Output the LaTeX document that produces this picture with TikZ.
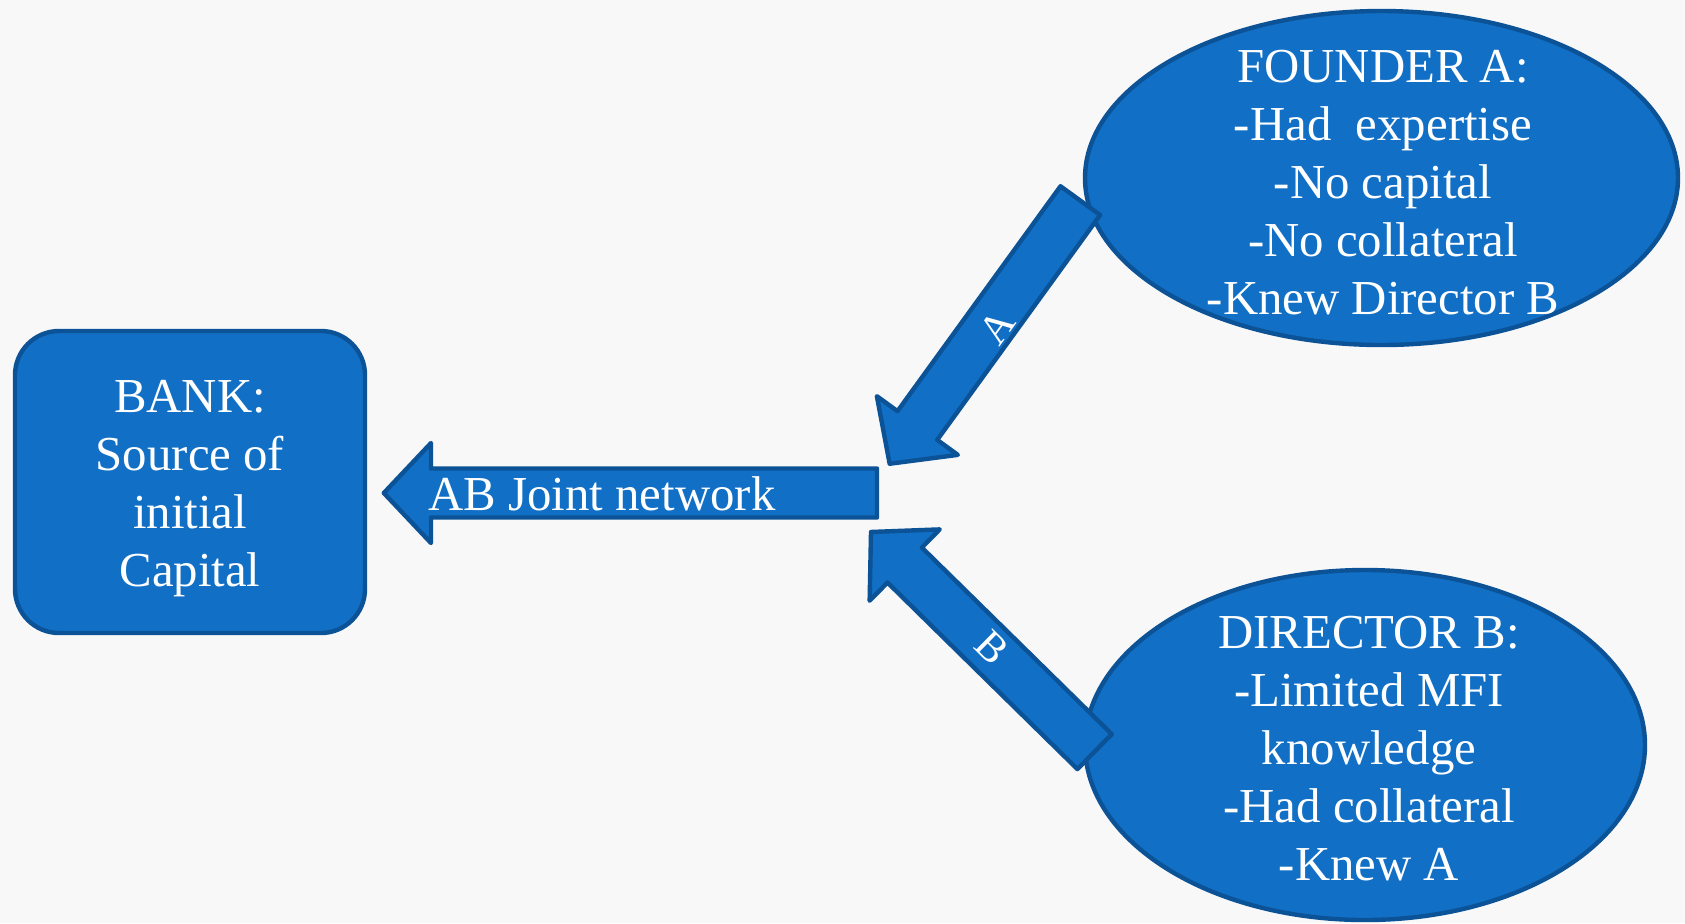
\documentclass[tikz,border=0pt]{standalone}
\usepackage{fontspec}
\setmainfont{Liberation Serif}
\usetikzlibrary{shapes.geometric,calc}
\definecolor{bgc}{HTML}{F8F8F8}
\definecolor{fillb}{RGB}{17,112,198}
\definecolor{lineb}{RGB}{11,82,150}
\tikzset{
  shapefill/.style={fill=fillb, draw=lineb, line width=2.2pt, line join=round},
  bankbox/.style={shapefill, rectangle, rounded corners=22pt, minimum width=175pt, minimum height=151pt, inner sep=0pt},
  oval/.style={shapefill, ellipse, inner sep=0pt},
  bigtxt/.style={text=white, font=\fontsize{24.4}{29}\selectfont, align=center, inner sep=0pt},
  arrtxt/.style={text=white, font=\fontsize{21}{24}\selectfont, inner sep=0pt},
}
\newcommand\blockarrow[2]{%
  \coordinate (bt) at ($(#1)!1pt!(#2)$);
  \coordinate (bp) at ($(#2)!1.4pt!(#1)$);
  \coordinate (bb) at ($(#2)!25pt!(#1)$);
  \draw[shapefill] ($(bt)!12.25pt!90:(bp)$) -- ($(bb)!12.25pt!-90:(bt)$) -- ($(bb)!25pt!-90:(bt)$) -- (bp)
    -- ($(bb)!25pt!90:(bt)$) -- ($(bb)!12.25pt!90:(bt)$) -- ($(bt)!12.25pt!-90:(bp)$) -- cycle;
}
\begin{document}
\begin{tikzpicture}[x=0.5pt, y=-0.5pt]
  \fill[bgc] (0,0) rectangle (1685,923);
  \useasboundingbox (0,0) rectangle (1685,923);

  % shapes
  \node[bankbox] (bank) at (190,482) {};
  \node[oval, minimum width=296.5pt, minimum height=167pt] (founder) at (1381.5,178) {};
  \node[oval, minimum width=280pt, minimum height=175pt] (director) at (1365,745) {};

  % arrow end points
  \coordinate (mainT) at (879,493);
  \coordinate (mainP) at (381,493);
  \coordinate (aT) at (1081.5,199);
  \coordinate (aP) at (888,466);
  \coordinate (bT) at (1096,753);
  \coordinate (bP) at (869,530);

  \blockarrow{mainT}{mainP}
  \blockarrow{aT}{aP}
  \blockarrow{bT}{bP}

  % texts
  \node[bigtxt, anchor=north] (banktxt) at (190,380) {BANK:\\Source of\\initial\\Capital};
  \node[bigtxt, anchor=north] (foundertxt) at (1383,50) {FOUNDER A:\\-Had\ \ expertise\\-No capital\\-No collateral\\-Knew Director B};
  \node[bigtxt, anchor=north] (directortxt) at (1369,616) {DIRECTOR B:\\-Limited MFI\\knowledge\\-Had collateral\\-Knew A};
  \node[bigtxt, anchor=base west] (abtxt) at (428,510) {AB Joint network};
  \node[arrtxt, rotate=54.2] (alab) at (997,327) {A};
  \node[arrtxt, rotate=-44.5] (blab) at (992,648) {B};
\end{tikzpicture}
\end{document}
